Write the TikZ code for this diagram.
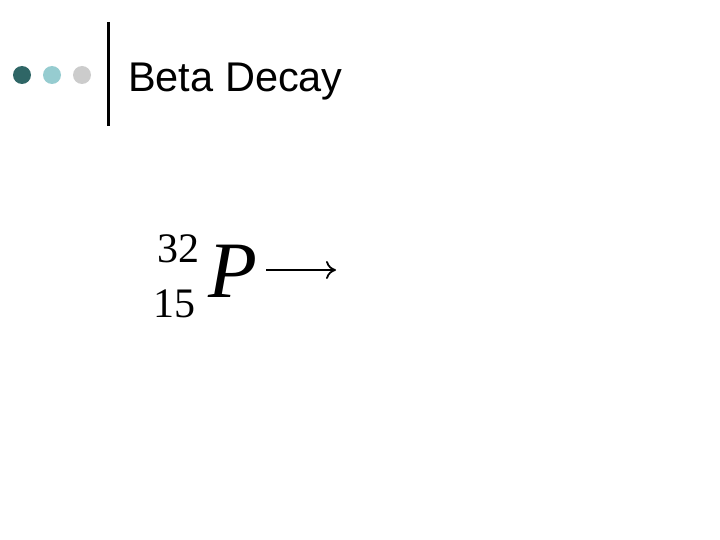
\documentclass[tikz,border=0pt]{standalone}
\usepackage{fontspec}
\setmainfont{Liberation Serif}
\newfontfamily\arial{Liberation Sans}
\usetikzlibrary{arrows.meta}
\begin{document}
\begin{tikzpicture}[x=1pt,y=-1pt]
\useasboundingbox (0,0) rectangle (720,540);
\tikzset{dot/.style={circle,inner sep=0pt,minimum size=18pt}}
\node[dot,fill={rgb,255:red,47;green,102;blue,102}] (d1) at (22,75) {};
\node[dot,fill={rgb,255:red,150;green,204;blue,208}] (d2) at (52,75) {};
\node[dot,fill={rgb,255:red,204;green,204;blue,204}] (d3) at (82,75) {};
\coordinate (t) at (108,22); \coordinate (b) at (108,126);
\draw[line width=3pt] (t) -- (b);
\node[anchor=base west,inner sep=0pt,font=\arial\fontsize{41.5}{45}\selectfont] (title) at (128,92) {Beta Decay};
\node[anchor=base west,inner sep=0pt,font=\fontsize{42}{46}\selectfont] (a) at (157,262) {32};
\node[anchor=base west,inner sep=0pt,font=\fontsize{80}{84}\selectfont\itshape] (p) at (208,297) {P};
\coordinate (s) at (266,270); \coordinate (e) at (336,270);
\draw[line width=1.8pt,-{To[length=10pt,width=18pt]}] (s) -- (e);
\node[anchor=base west,inner sep=0pt,font=\fontsize{42}{46}\selectfont] (z) at (153,317) {15};
\end{tikzpicture}
\end{document}
